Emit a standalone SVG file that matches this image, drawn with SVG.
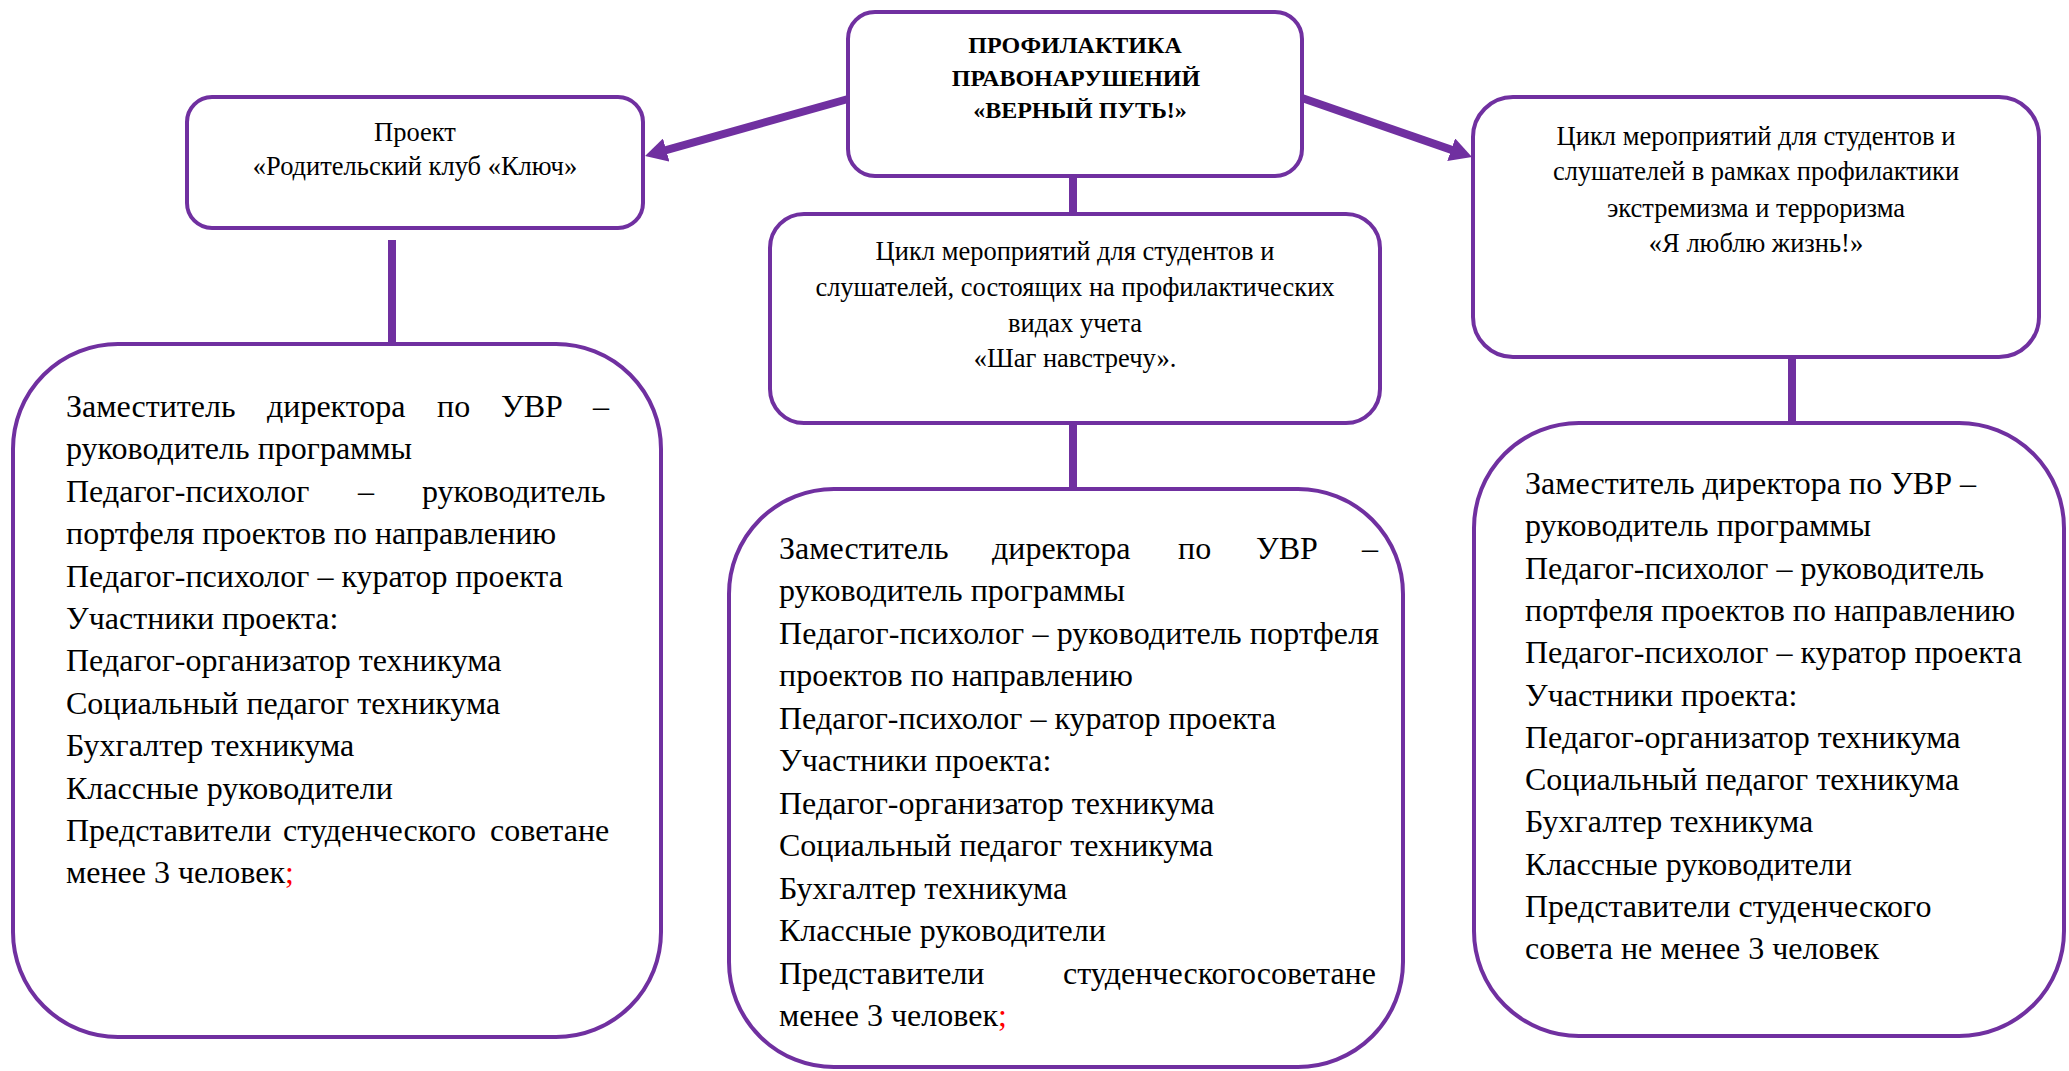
<svg xmlns="http://www.w3.org/2000/svg" width="2069" height="1071" viewBox="0 0 2069 1071">
<style>
.box{fill:#fff;stroke:#7030A0;stroke-width:4}
.conn{stroke:#7030A0;stroke-width:8;fill:none}
.t{font-family:"Liberation Serif","Times New Roman",serif;fill:#000}
.s{font-size:26.5px;text-anchor:middle}
.b{font-size:24px;font-weight:bold;text-anchor:middle}
.l{font-size:32px}
.red{fill:#FF0000}
</style>
<defs>
<marker id="arr" markerUnits="userSpaceOnUse" markerWidth="22" markerHeight="24" viewBox="0 0 22 24" refX="2" refY="12" orient="auto">
<path d="M0,0 L22,12 L0,24 z" fill="#7030A0"/>
</marker>
</defs>
<rect width="2069" height="1071" fill="#fff"/>
<g id="connectors">
<path class="conn" d="M848,99 L664.3,150.6" marker-end="url(#arr)"/>
<path class="conn" d="M1302,98 L1453.1,150.4" marker-end="url(#arr)"/>
<path class="conn" d="M1073,176 L1073,214"/>
<path class="conn" d="M1073,423 L1073,489"/>
<path class="conn" d="M392,240 L392,343"/>
<path class="conn" d="M1792,357 L1792,423"/>
</g>
<g id="node-main">
<rect class="box" x="848" y="12" width="454" height="164" rx="27"/>
<text class="t b"><tspan x="1075" y="53">ПРОФИЛАКТИКА</tspan><tspan x="1076" y="85.5">ПРАВОНАРУШЕНИЙ</tspan><tspan x="1080" y="118">«ВЕРНЫЙ ПУТЬ!»</tspan></text>
</g>
<g id="node-project">
<rect class="box" x="187" y="97" width="456" height="131" rx="25"/>
<text class="t s"><tspan x="415" y="141">Проект</tspan><tspan x="415" y="175">«Родительский клуб «Ключ»</tspan></text>
</g>
<g id="node-step">
<rect class="box" x="770" y="214" width="610" height="209" rx="34"/>
<text class="t s"><tspan x="1075" y="260">Цикл мероприятий для студентов и</tspan><tspan x="1075" y="296">слушателей, состоящих на профилактических</tspan><tspan x="1075" y="332">видах учета</tspan><tspan x="1075" y="367">«Шаг навстречу».</tspan></text>
</g>
<g id="node-life">
<rect class="box" x="1473" y="97" width="566" height="260" rx="40"/>
<text class="t s"><tspan x="1756" y="145">Цикл мероприятий для студентов и</tspan><tspan x="1756" y="180">слушателей в рамках профилактики</tspan><tspan x="1756" y="217">экстремизма и терроризма</tspan><tspan x="1756" y="252">«Я люблю жизнь!»</tspan></text>
</g>
<g id="node-team-left">
<rect class="box" x="13" y="344" width="648" height="693" rx="105"/>
<text class="t l"><tspan x="66" y="417">Заместитель</tspan><tspan x="267" y="417">директора</tspan><tspan x="437" y="417">по</tspan><tspan x="501" y="417">УВР</tspan><tspan x="593" y="417">–</tspan></text>
<text class="t l" x="66" y="459.4">руководитель программы</text>
<text class="t l"><tspan x="66" y="501.8">Педагог-психолог</tspan><tspan x="358" y="501.8">–</tspan><tspan x="422" y="501.8">руководитель</tspan></text>
<text class="t l" x="66" y="544.2">портфеля проектов по направлению</text>
<text class="t l" x="66" y="586.6">Педагог-психолог – куратор проекта</text>
<text class="t l" x="66" y="629">Участники проекта:</text>
<text class="t l" x="66" y="671.4">Педагог-организатор техникума</text>
<text class="t l" x="66" y="713.8">Социальный педагог техникума</text>
<text class="t l" x="66" y="756.2">Бухгалтер техникума</text>
<text class="t l" x="66" y="798.6">Классные руководители</text>
<text class="t l"><tspan x="66" y="841">Представители</tspan><tspan x="283" y="841">студенческого</tspan><tspan x="490" y="841">советане</tspan></text>
<text class="t l" x="66" y="883.4">менее 3 человек<tspan class="red">;</tspan></text>
</g>
<g id="node-team-middle">
<rect class="box" x="729" y="489" width="674" height="578" rx="105"/>
<text class="t l"><tspan x="779" y="558.7">Заместитель</tspan><tspan x="992" y="558.7">директора</tspan><tspan x="1178" y="558.7">по</tspan><tspan x="1256" y="558.7">УВР</tspan><tspan x="1362" y="558.7">–</tspan></text>
<text class="t l" x="779" y="601.2">руководитель программы</text>
<text class="t l" x="779" y="643.7" textLength="600" lengthAdjust="spacing">Педагог-психолог – руководитель портфеля</text>
<text class="t l" x="779" y="686.2">проектов по направлению</text>
<text class="t l" x="779" y="728.7">Педагог-психолог – куратор проекта</text>
<text class="t l" x="779" y="771.2">Участники проекта:</text>
<text class="t l" x="779" y="813.7">Педагог-организатор техникума</text>
<text class="t l" x="779" y="856.2">Социальный педагог техникума</text>
<text class="t l" x="779" y="898.7">Бухгалтер техникума</text>
<text class="t l" x="779" y="941.2">Классные руководители</text>
<text class="t l"><tspan x="779" y="983.7">Представители</tspan><tspan x="1063" y="983.7">студенческогосоветане</tspan></text>
<text class="t l" x="779" y="1026.2">менее 3 человек<tspan class="red">;</tspan></text>
</g>
<g id="node-team-right">
<rect class="box" x="1474" y="423" width="590" height="613" rx="105"/>
<text class="t l" x="1525" y="494">Заместитель директора по УВР –</text>
<text class="t l" x="1525" y="536.3">руководитель программы</text>
<text class="t l" x="1525" y="578.6">Педагог-психолог – руководитель</text>
<text class="t l" x="1525" y="620.9">портфеля проектов по направлению</text>
<text class="t l" x="1525" y="663.2">Педагог-психолог – куратор проекта</text>
<text class="t l" x="1525" y="705.5">Участники проекта:</text>
<text class="t l" x="1525" y="747.8">Педагог-организатор техникума</text>
<text class="t l" x="1525" y="790.1">Социальный педагог техникума</text>
<text class="t l" x="1525" y="832.4">Бухгалтер техникума</text>
<text class="t l" x="1525" y="874.7">Классные руководители</text>
<text class="t l" x="1525" y="917">Представители студенческого</text>
<text class="t l" x="1525" y="959.3">совета не менее 3 человек</text>
</g>
</svg>
